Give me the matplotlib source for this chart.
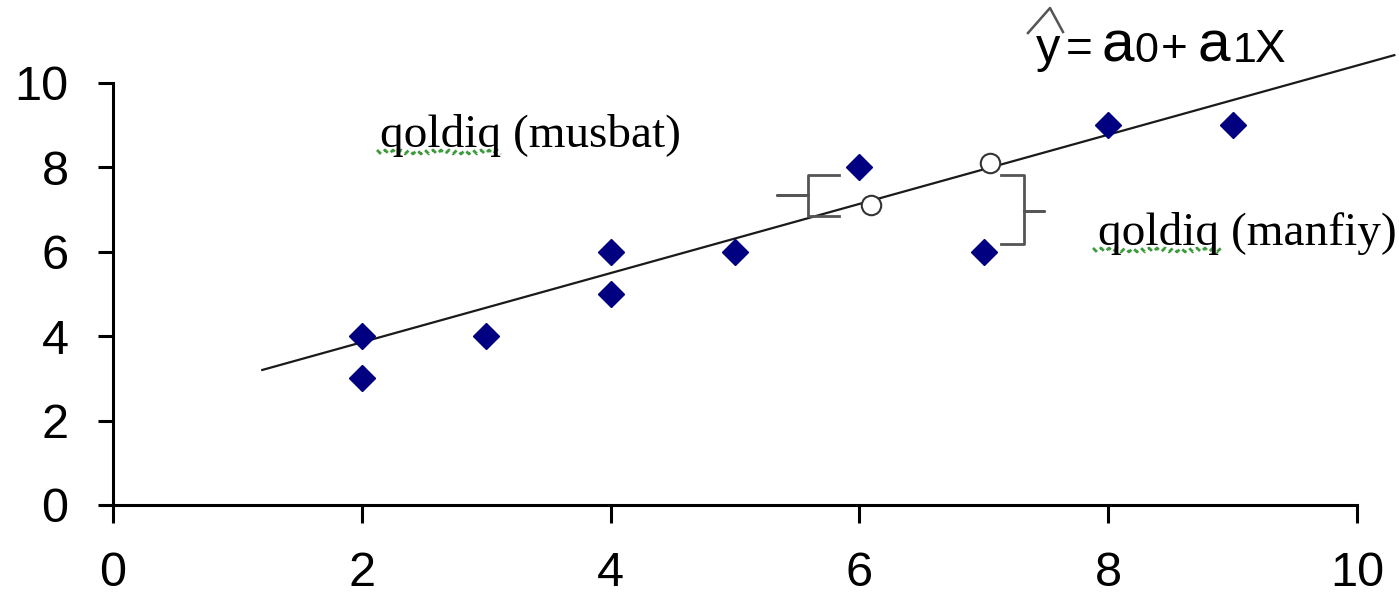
import numpy as np
import matplotlib
matplotlib.use("Agg")
import matplotlib.pyplot as plt
from matplotlib.lines import Line2D

# observed points
x_obs = [2, 2, 3, 4, 4, 5, 6, 7, 8, 9]
y_obs = [4, 3, 4, 6, 5, 6, 8, 6, 9, 9]

# fitted line ends
line_x = [1.2, 10.3]
line_y = [3.2, 10.66]

# points on the line (open circles)
fit_x = [6.09, 7.05]
fit_y = [7.1, 8.1]

ticks = [0, 2, 4, 6, 8, 10]

W, H = 1399, 600
fig = plt.figure(figsize=(W / 100, H / 100), dpi=100)
ax = fig.add_axes([113 / W, 1 - 505 / H, (1357 - 113) / W, (505 - 83) / H])

ax.plot(line_x, line_y, color="#1a1a1a", lw=1.6, clip_on=False, zorder=2)
ax.plot(x_obs, y_obs, "D", color="#000080", ms=13, mec="#000080", zorder=3)
ax.plot(fit_x, fit_y, "o", ms=14, mfc="white", mec="#333333", mew=1.5, zorder=4)

# braces marking the residuals
brace_l_x = [5.84, 5.59, 5.59, 5.34, 5.59, 5.59, 5.84]
brace_l_y = [7.82, 7.82, 7.35, 7.35, 7.35, 6.85, 6.85]
brace_r_x = [7.14, 7.32, 7.32, 7.48, 7.32, 7.32, 7.14]
brace_r_y = [7.82, 7.82, 6.97, 6.97, 6.97, 6.18, 6.18]
ax.plot(brace_l_x, brace_l_y, color="#555555", lw=2, zorder=2)
ax.plot(brace_r_x, brace_r_y, color="#555555", lw=2, zorder=2)

ax.set_xlim(0, 10)
ax.set_ylim(0, 10)
ax.set_xticks(ticks)
ax.set_yticks(ticks)
ax.spines["top"].set_visible(False)
ax.spines["right"].set_visible(False)
for s in ["left", "bottom"]:
    ax.spines[s].set_linewidth(2.2)
ax.tick_params(axis="y", length=11, width=2.2, pad=21)
ax.tick_params(axis="x", length=13, width=2.2, pad=20)
for lab in ax.get_xticklabels() + ax.get_yticklabels():
    lab.set_fontfamily("Liberation Sans")
    lab.set_fontsize(35)

# residual labels
fig.text(380 / W, 1 - 147 / H, "qoldiq (musbat)", family="Liberation Serif",
         fontsize=34, ha="left", va="baseline")
fig.text(1098 / W, 1 - 245 / H, "qoldiq (manfiy)", family="Liberation Serif",
         fontsize=34, ha="left", va="baseline")

# spell-check squiggles under "qoldiq"
for x0, x1, yb in [(377, 505, 152), (1093, 1223, 250)]:
    zx = np.arange(x0, x1, 4)
    zy = yb + np.where(np.arange(len(zx)) % 2 == 0, -2, 2)
    fig.add_artist(Line2D(zx / W, 1 - zy / H, color="#3c9c3c", lw=2,
                          ls=(0, (2, 1.5)), transform=fig.transFigure))

# equation y-hat = a0 + a1 X
pieces = [("y", 1036, 35), ("=", 1066, 33), ("a", 1101, 42), ("0", 1134, 31),
          ("+", 1161, 33), ("a", 1197, 42), ("1", 1233, 31), ("X", 1255, 33)]
for s, px, fs in pieces:
    fig.text(px / W, 1 - 62 / H, s, family="Liberation Sans", fontsize=fs,
             ha="left", va="baseline")
hat_x = np.array([1028, 1050, 1063])
hat_y = np.array([33, 8, 32])
fig.add_artist(Line2D(hat_x / W, 1 - hat_y / H, color="#555555", lw=1.8,
                      transform=fig.transFigure))

fig.savefig("out.png", dpi=100)
